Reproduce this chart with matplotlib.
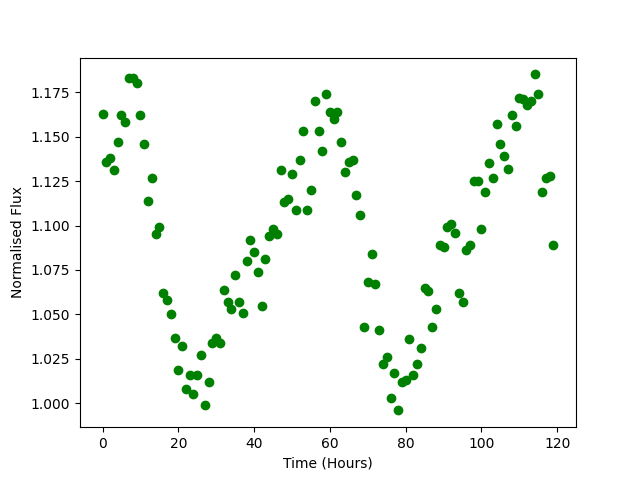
import matplotlib
matplotlib.use('Agg')
import matplotlib.pyplot as plt

# hourly light curve
time = list(range(120))
flux = [1.163, 1.136, 1.138, 1.131, 1.147, 1.162, 1.158, 1.183, 1.183, 1.180,
        1.162, 1.146, 1.114, 1.127, 1.095, 1.099, 1.062, 1.058, 1.050, 1.037,
        1.019, 1.032, 1.008, 1.016, 1.005, 1.016, 1.027, 0.999, 1.012, 1.034,
        1.037, 1.034, 1.064, 1.057, 1.053, 1.072, 1.057, 1.051, 1.080, 1.092,
        1.085, 1.074, 1.055, 1.081, 1.094, 1.098, 1.095, 1.131, 1.113, 1.115,
        1.129, 1.109, 1.137, 1.153, 1.109, 1.120, 1.170, 1.153, 1.142, 1.174,
        1.164, 1.160, 1.164, 1.147, 1.130, 1.136, 1.137, 1.117, 1.106, 1.043,
        1.068, 1.084, 1.067, 1.041, 1.022, 1.026, 1.003, 1.017, 0.996, 1.012,
        1.013, 1.036, 1.016, 1.022, 1.031, 1.065, 1.063, 1.043, 1.053, 1.089,
        1.088, 1.099, 1.101, 1.096, 1.062, 1.057, 1.086, 1.089, 1.125, 1.125,
        1.098, 1.119, 1.135, 1.127, 1.157, 1.146, 1.139, 1.132, 1.162, 1.156,
        1.172, 1.171, 1.168, 1.170, 1.185, 1.174, 1.119, 1.127, 1.128, 1.089]

plt.figure(figsize=(6.4, 4.8), dpi=100)
plt.plot(time, flux, 'go')
plt.xlabel('Time (Hours)')
plt.ylabel('Normalised Flux')
plt.savefig('out.png')
